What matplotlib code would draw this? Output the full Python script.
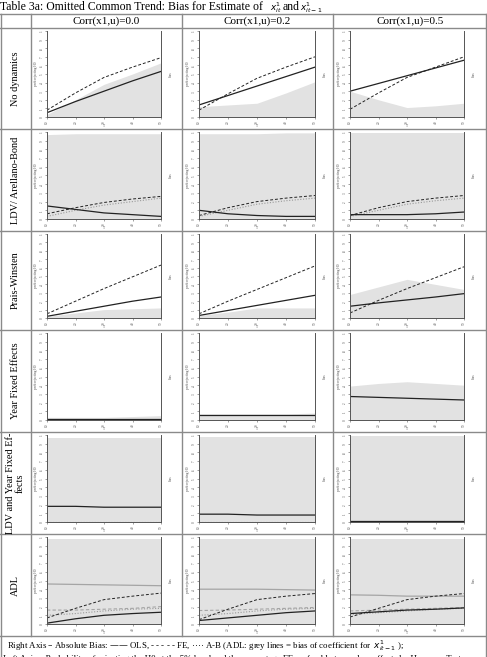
import numpy as np
import matplotlib.pyplot as plt
from matplotlib.lines import Line2D

plt.rcParams['font.family'] = ['Liberation Serif', 'DejaVu Serif']

# Datos (T = longitud del panel)
T = [10, 20, 30, 40, 50]
col_titles = ['Corr(x1,u)=0.0', 'Corr(x1,u)=0.2', 'Corr(x1,u)=0.5']
row_titles = ['No dynamics', 'LDV/ Arellano-Bond', 'Prais-Winsten',
              'Year Fixed Effects', 'LDV and Year Fixed Ef-\nfects', 'ADL']

# Probabilidad de rechazar H0 (eje izquierdo, área gris): filas x columnas
prob_nodyn = [[0.03, 0.20, 0.38, 0.50, 0.63], [0.12, 0.14, 0.16, 0.28, 0.41], [0.30, 0.20, 0.11, 0.13, 0.16]]
prob_ldv = [[0.97, 0.98, 0.98, 0.98, 0.98], [0.98, 0.98, 0.98, 0.99, 0.99], [0.99, 0.99, 0.99, 0.99, 0.99]]
prob_pw = [[0.02, 0.06, 0.10, 0.11, 0.12], [0.03, 0.07, 0.12, 0.12, 0.12], [0.28, 0.37, 0.46, 0.40, 0.34]]
prob_yfe = [[0.03, 0.03, 0.03, 0.04, 0.05], [0.07, 0.07, 0.07, 0.07, 0.08], [0.39, 0.42, 0.44, 0.42, 0.40]]
prob_ldvyfe = [[0.97, 0.97, 0.97, 0.97, 0.97], [0.98, 0.98, 0.98, 0.98, 0.98], [0.99, 0.99, 0.99, 0.99, 0.99]]
prob_adl = [[0.98, 0.98, 0.98, 0.98, 0.98], [0.98, 0.98, 0.98, 0.98, 0.98], [0.98, 0.98, 0.98, 0.98, 0.98]]

# Sesgo absoluto OLS (eje derecho, línea sólida)
ols_nodyn = [[0.05, 0.18, 0.30, 0.42, 0.53], [0.14, 0.25, 0.36, 0.47, 0.58], [0.30, 0.39, 0.48, 0.57, 0.66]]
ols_ldv = [[0.15, 0.11, 0.07, 0.05, 0.03], [0.10, 0.06, 0.04, 0.03, 0.03], [0.05, 0.05, 0.05, 0.06, 0.08]]
ols_pw = [[0.02, 0.08, 0.14, 0.20, 0.25], [0.03, 0.09, 0.15, 0.21, 0.27], [0.14, 0.18, 0.215, 0.25, 0.29]]
ols_yfe = [[0.01, 0.01, 0.01, 0.01, 0.01], [0.06, 0.06, 0.06, 0.06, 0.06], [0.27, 0.26, 0.25, 0.24, 0.23]]
ols_ldvyfe = [[0.18, 0.18, 0.17, 0.17, 0.17], [0.09, 0.09, 0.08, 0.08, 0.08], [0.01, 0.01, 0.01, 0.01, 0.01]]
ols_adl = [[0.01, 0.06, 0.10, 0.12, 0.135], [0.04, 0.07, 0.10, 0.13, 0.15], [0.12, 0.14, 0.16, 0.17, 0.185]]

# Sesgo absoluto FE (línea discontinua)
fe_nodyn = [[0.08, 0.28, 0.46, 0.58, 0.69], [0.08, 0.27, 0.45, 0.58, 0.70], [0.09, 0.28, 0.46, 0.58, 0.70]]
fe_ldv = [[0.06, 0.13, 0.19, 0.23, 0.26], [0.04, 0.13, 0.20, 0.24, 0.27], [0.04, 0.13, 0.20, 0.24, 0.27]]
fe_pw = [[0.05, 0.20, 0.35, 0.49, 0.63], [0.05, 0.20, 0.34, 0.48, 0.62], [0.06, 0.21, 0.35, 0.48, 0.61]]
fe_yfe = [[0.003] * 5, [0.003] * 5, [0.003] * 5]
fe_ldvyfe = [[0.005] * 5, [0.005] * 5, [0.005] * 5]
fe_adl = [[0.07, 0.18, 0.28, 0.32, 0.355], [0.05, 0.17, 0.28, 0.32, 0.35], [0.08, 0.18, 0.28, 0.32, 0.35]]

# Sesgo absoluto A-B (línea punteada), solo modelos con LDV
ab_ldv = [[0.03, 0.10, 0.16, 0.20, 0.24], [0.03, 0.10, 0.17, 0.21, 0.24], [0.03, 0.10, 0.17, 0.21, 0.24]]
ab_ldvyfe = [[0.002] * 5, [0.002] * 5, [0.002] * 5]
ab_adl = [[0.10, 0.12, 0.15, 0.17, 0.18], [0.10, 0.12, 0.15, 0.17, 0.18], [0.11, 0.13, 0.15, 0.17, 0.18]]

# ADL: sesgo del coeficiente de x_{it-1} (líneas grises)
lag_ols_adl = [[0.46, 0.455, 0.45, 0.445, 0.44], [0.40, 0.40, 0.40, 0.395, 0.39], [0.335, 0.33, 0.32, 0.32, 0.32]]
lag_fe_adl = [[0.16, 0.16, 0.17, 0.18, 0.20], [0.155, 0.16, 0.17, 0.18, 0.19], [0.15, 0.16, 0.17, 0.18, 0.19]]

probs = [prob_nodyn, prob_ldv, prob_pw, prob_yfe, prob_ldvyfe, prob_adl]
ols = [ols_nodyn, ols_ldv, ols_pw, ols_yfe, ols_ldvyfe, ols_adl]
fe = [fe_nodyn, fe_ldv, fe_pw, fe_yfe, fe_ldvyfe, fe_adl]
ab = [None, ab_ldv, None, None, ab_ldvyfe, ab_adl]

W, H = 487, 657
fig = plt.figure(figsize=(W / 100, H / 100), dpi=100)

def fx(px):
    return px / W

def fy(py):
    return 1 - py / H

grid_col = '#8a8a8a'
row_edges = [28, 129, 231, 330, 432, 534, 636]
col_edges = [31, 182, 333]
ax_left = [47, 199, 350]
ax_right = [161, 315, 464]

# Líneas de la tabla
for y in [14] + row_edges:
    fig.add_artist(Line2D([0, 1], [fy(y), fy(y)], color=grid_col, lw=1.0))
for x in col_edges:
    fig.add_artist(Line2D([fx(x), fx(x)], [fy(14), fy(636)], color=grid_col, lw=1.0))
for x in [0.6, W - 0.6]:
    fig.add_artist(Line2D([fx(x), fx(x)], [fy(14), 0], color=grid_col, lw=1.0))

# Título (texto + símbolos pequeños aparte)
fig.text(fx(0.5), fy(10.5), 'Table 3a: Omitted Common Trend: Bias for Estimate of',
         fontsize=8.5, va='baseline', ha='left')
fig.text(fx(270), fy(10.5), r'$x^{1}_{it}$', fontsize=6.3, va='baseline', ha='left')
fig.text(fx(283), fy(10.5), 'and', fontsize=8.5, va='baseline', ha='left')
fig.text(fx(300), fy(10.5), r'$x^{1}_{it-1}$', fontsize=6.3, va='baseline', ha='left')

for j, t in enumerate(col_titles):
    fig.text(fx((col_edges[j] + (col_edges[j + 1] if j < 2 else W)) / 2), fy(21.5), t,
             fontsize=8, ha='center', va='center')
for i, t in enumerate(row_titles):
    fig.text(fx(15.5), fy((row_edges[i] + row_edges[i + 1]) / 2), t, rotation=90,
             fontsize=7.4, ha='center', va='center', linespacing=1.0)

fig.text(fx(7), fy(646), 'Right Axis \u2013 Absolute Bias: \u2014\u2014 OLS, - - - - - FE, \u00b7\u00b7\u00b7\u00b7 A-B '
         '(ADL: grey lines = bias of coefficient for  $x^{1}_{it-1}$ );', fontsize=6.4, va='center')
fig.text(fx(3), fy(659), 'Left Axis \u2013 Probability of rejecting the H0 at the 5% level and the percentage FE '
         'preferable to random effects by Hausman Test', fontsize=6.4, va='center')

ticks = np.arange(0, 1.01, 0.1)
tlabels = ['0', '.1', '.2', '.3', '.4', '.5', '.6', '.7', '.8', '.9', '1']
for i in range(6):
    top = row_edges[i] + 3
    bot = row_edges[i + 1] - 12
    for j in range(3):
        ax = fig.add_axes([fx(ax_left[j]), fy(bot), fx(ax_right[j] - ax_left[j]), (bot - top) / H])
        ax.fill_between(T, 0, probs[i][j], color='#e2e2e2', lw=0)
        if i == 5:
            ax.plot(T, lag_ols_adl[j], color='#a5a5a5', lw=0.9)
            ax.plot(T, lag_fe_adl[j], color='#a5a5a5', lw=0.8, ls=(0, (3, 2)))
        if ab[i] is not None:
            ax.plot(T, ab[i][j], color='#9a9a9a', lw=0.8, ls=(0, (1, 1.5)))
        ax.plot(T, fe[i][j], color='#222222', lw=0.7, ls=(0, (3, 2)))
        ax.plot(T, ols[i][j], color='#222222', lw=0.9)
        ax.set_xlim(10, 50)
        ax.set_ylim(0, 1)
        ax.set_xticks([10, 20, 30, 40, 50])
        ax.set_xticklabels(['10', '20', '30', '40', '50'], rotation=90)
        ax.set_yticks(ticks)
        ax.set_yticklabels(tlabels, rotation=90, va='center')
        ax.tick_params(labelsize=2.5, length=1.5, width=0.4, pad=0.8, colors='#555555',
                       right=True, labelright=True)
        ax.set_xlabel('T', fontsize=2.5, labelpad=0.5, color='#555555')
        ax.set_ylabel('prob rejecting H0', fontsize=2.5, labelpad=1, color='#555555')
        ax2 = ax.twinx()
        ax2.set_yticks([])
        ax2.set_ylabel('bias', fontsize=2.5, labelpad=6, color='#555555')
        for a in (ax, ax2):
            a.spines['top'].set_visible(False)
            for s in ('left', 'right', 'bottom'):
                a.spines[s].set_color('#555555')
                a.spines[s].set_linewidth(0.6)

plt.savefig('out.png', dpi=100)
